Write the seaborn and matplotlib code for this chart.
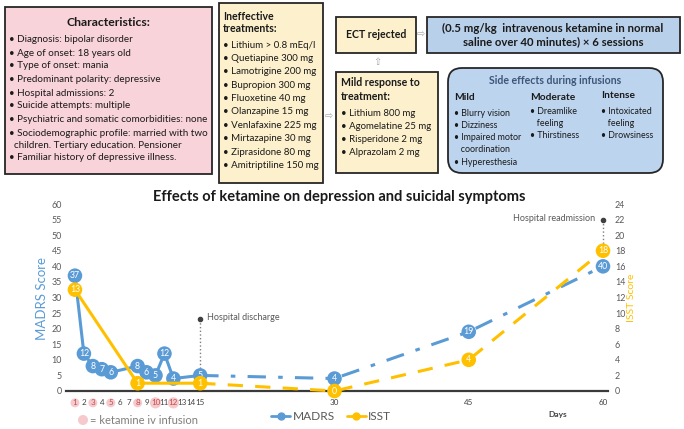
import matplotlib
matplotlib.use("Agg")
import matplotlib.pyplot as plt
from matplotlib.patches import FancyBboxPatch, Circle
from matplotlib.lines import Line2D
from matplotlib.transforms import Affine2D
import seaborn as sns
import pandas as pd

# figure size in pixels (dpi 100)
W, H = 684, 429

# chart data
madrs_days = [1, 2, 3, 4, 5, 8, 9, 10, 11, 12, 15, 30, 45, 60]
madrs_scores = [37, 12, 8, 7, 6, 8, 6, 5, 12, 4, 5, 4, 19, 40]
isst_days = [1, 8, 15, 30, 45, 60]
isst_scores = [13, 1, 1, 0, 4, 18]
infusion_days = [1, 3, 5, 8, 10, 12]
day_ticks = list(range(1, 16)) + [30, 45, 60]
discharge_day = 15
readmission_day = 60

# flowchart texts
characteristics = [
    "Diagnosis: bipolar disorder",
    "Age of onset: 18 years old",
    "Type of onset: mania",
    "Predominant polarity: depressive",
    "Hospital admissions: 2",
    "Suicide attempts: multiple",
    "Psychiatric and somatic comorbidities: none",
    "Sociodemographic profile: married with two",
    "  children. Tertiary education. Pensioner",
    "Familiar history of depressive illness.",
]
ineffective = [
    "Lithium > 0.8 mEq/l", "Quetiapine 300 mg", "Lamotrigine 200 mg",
    "Bupropion 300 mg", "Fluoxetine 40 mg", "Olanzapine 15 mg",
    "Venlafaxine 225 mg", "Mirtazapine 30 mg", "Ziprasidone 80 mg",
    "Amitriptiline 150 mg",
]
mild_response = ["Lithium 800 mg", "Agomelatine 25 mg", "Risperidone 2 mg", "Alprazolam 2 mg"]
side_mild = ["• Blurry vision", "• Dizziness", "• Impaired motor", "   coordination", "• Hyperesthesia"]
side_moderate = ["• Dreamlike", "   feeling", "• Thirstiness"]
side_intense = ["• Intoxicated", "   feeling", "• Drowsiness"]

BLUE = "#5b9bd5"
GOLD = "#ffc000"
GRAY = "#595959"
PINK = "#f9d3da"
CREAM = "#fdf0cc"
LBLUE = "#bcd4ee"

sns.set_theme(style="white")
plt.rcParams["font.family"] = ["Lato", "DejaVu Sans"]

fig = plt.figure(figsize=(W / 100, H / 100), dpi=100)
# pixel coordinates, origin top-left
px = Affine2D().scale(1 / W, -1 / H).translate(0, 1) + fig.transFigure


def fx(x):
    return x / W


def fy(y):
    return 1 - y / H


def box(x0, y0, x1, y1, fc, r=0):
    style = "round,pad=0,rounding_size=%d" % r if r else "square,pad=0"
    fig.add_artist(FancyBboxPatch((x0, y0), x1 - x0, y1 - y0, boxstyle=style,
                                  transform=px, fc=fc, ec="#262626", lw=1.3))


def txt(x, y, s, size=6.6, **kw):
    kw.setdefault("color", "#1a1a1a")
    kw.setdefault("va", "center")
    fig.text(fx(x), fy(y), s, fontsize=size, **kw)


# ---- flowchart boxes ----
box(5, 7, 212, 174, PINK)
txt(108, 22, "Characteristics:", 8.8, weight="bold", ha="center")
ys = [40, 53, 66, 80, 93, 106, 119, 133, 145, 158]
for y, s in zip(ys, characteristics):
    txt(9, y, s if s.startswith(" ") else "• " + s, 7.1)

box(219, 3, 323, 183, CREAM)
txt(223, 16, "Ineffective", 7.6, weight="bold")
txt(223, 29, "treatments:", 7.6, weight="bold")
for i, s in enumerate(ineffective):
    txt(223, 45 + i * 13.4, "• " + s, 7.0)

box(336, 17, 416, 53, CREAM)
txt(376, 35, "ECT rejected", 7.6, weight="bold", ha="center")
box(427, 17, 680, 53, "#b8d0ea")
txt(553, 28, "(0.5 mg/kg  intravenous ketamine in normal", 8.2, weight="bold", ha="center")
txt(553, 42, "saline over 40 minutes) × 6 sessions", 8.2, weight="bold", ha="center")

box(336, 72, 438, 173, CREAM)
txt(341, 83, "Mild response to", 7.6, weight="bold")
txt(341, 97, "treatment:", 7.6, weight="bold")
for i, s in enumerate(mild_response):
    txt(341, 113 + i * 13.2, "• " + s, 6.9)

box(448, 68, 663, 173, LBLUE, r=14)
txt(555, 80, "Side effects during infusions", 7.6, weight="bold", ha="center", color="#3d5577")
txt(454, 97, "Mild", 7.3, weight="bold")
txt(530, 97, "Moderate", 7.3, weight="bold")
txt(601, 96, "Intense", 7.3, weight="bold")
for i, s in enumerate(side_mild):
    txt(454, 113 + i * 12.3, s, 6.4)
for i, s in enumerate(side_moderate):
    txt(530, 112 + i * 12, s, 6.4)
for i, s in enumerate(side_intense):
    txt(601, 112 + i * 12, s, 6.4)

# small hollow arrows between boxes
for x, y, s in [(329, 117, "⇨"), (421, 35, "⇨"), (377, 62, "⇧")]:
    fig.text(fx(x), fy(y), s, fontsize=7, color="#a6a6a6", ha="center", va="center",
             family="DejaVu Sans")

# ---- chart ----
txt(339, 197, "Effects of ketamine on depression and suicidal symptoms", 10.5,
    weight="bold", ha="center")

ax = fig.add_axes([fx(66), fy(391), fx(608) - fx(66), fy(204) - fy(391)])
ax2 = ax.twinx()

madrs = pd.DataFrame({"day": madrs_days, "score": madrs_scores})
isst = pd.DataFrame({"day": isst_days, "score": isst_scores})

sns.lineplot(data=madrs[madrs.day <= 15], x="day", y="score", ax=ax, color=BLUE,
             lw=2.2, clip_on=False)
sns.lineplot(data=madrs[madrs.day >= 15], x="day", y="score", ax=ax, color=BLUE,
             lw=2.2, linestyle=(0, (6, 4, 1.5, 4)), clip_on=False)
sns.scatterplot(data=madrs, x="day", y="score", ax=ax, color=BLUE, s=110,
                edgecolor="none", zorder=5, clip_on=False)
for d, v in zip(madrs_days, madrs_scores):
    ax.text(d, v, str(v), color="white", fontsize=6.3, ha="center", va="center", zorder=6)

sns.lineplot(data=isst[isst.day <= 15], x="day", y="score", ax=ax2, color=GOLD,
             lw=2.2, clip_on=False)
sns.lineplot(data=isst[isst.day >= 15], x="day", y="score", ax=ax2, color=GOLD,
             lw=2.2, linestyle=(0, (5, 4)), clip_on=False)
sns.scatterplot(data=isst, x="day", y="score", ax=ax2, color=GOLD, s=110,
                edgecolor="none", zorder=5, clip_on=False)
for d, v in zip(isst_days, isst_scores):
    ax2.text(d, v, str(v), color="white", fontsize=6.3, ha="center", va="center", zorder=6)

# hospital discharge / readmission markers
ax.plot([discharge_day, discharge_day], [6, 23], ls=":", color="#7f7f7f", lw=1, zorder=1)
ax.plot(discharge_day, 23, marker="o", ms=3, color="#404040", clip_on=False)
ax.text(discharge_day + 0.7, 23.5, "Hospital discharge", fontsize=6.5, color=GRAY, va="center")
ax2.plot([readmission_day, readmission_day], [18.5, 22], ls=":", color="#7f7f7f", lw=1,
         clip_on=False)
ax2.plot(readmission_day, 22, marker="o", ms=3, color="#404040", clip_on=False)
ax2.text(readmission_day - 0.9, 22.1, "Hospital readmission", fontsize=6.5, color=GRAY,
         va="center", ha="right")

ax.set_xlim(0, 60.56)
ax.set_ylim(0, 60)
ax2.set_ylim(0, 24)
ax.set_yticks(range(0, 61, 5))
ax2.set_yticks(range(0, 25, 2))
ax.set_xticks(day_ticks)
ax.set_xticklabels([str(d) for d in day_ticks])
ax.set_xlabel("")
ax.set_ylabel("")
ax2.set_ylabel("")
for a in (ax, ax2):
    for sp in a.spines.values():
        sp.set_visible(False)
    a.grid(False)
ax.spines["bottom"].set_visible(True)
ax.spines["bottom"].set_color("#3a3a3a")
ax.spines["bottom"].set_linewidth(1.6)
ax.tick_params(axis="y", length=0, labelsize=6.4, labelcolor=GRAY, pad=3)
ax2.tick_params(axis="y", length=0, labelsize=6.4, labelcolor=GRAY, pad=5)
ax.tick_params(axis="x", length=0, labelsize=5.8, labelcolor="#404040", pad=6)
for d, lbl in zip(day_ticks, ax.get_xticklabels()):
    if d in infusion_days:
        lbl.set_color("#c0504d")
        lbl.set_bbox(dict(boxstyle="circle,pad=0.12", fc="#f6c9cc", ec="none"))

fig.text(fx(42), fy(298), "MADRS Score", rotation=90, fontsize=9.5, color=BLUE,
         ha="center", va="center")
fig.text(fx(631), fy(298), "ISST Score", rotation=90, fontsize=7.5, color=GOLD,
         ha="center", va="center")
txt(558, 414, "Days", 6, weight="bold", ha="center", color="#404040")

# legends
handles = [Line2D([0], [0], color=BLUE, lw=2, marker="o", ms=5),
           Line2D([0], [0], color=GOLD, lw=2, marker="o", ms=5)]
fig.legend(handles, ["MADRS", "ISST"], loc="center", bbox_to_anchor=(fx(331), fy(417)),
           ncol=2, frameon=False, fontsize=8.6, labelcolor=GRAY, handlelength=1.6,
           handletextpad=0.2, columnspacing=1.0)
fig.add_artist(Circle((83, 420), 5, transform=px, fc="#f6c9cc", ec="none"))
txt(90, 420, "= ketamine iv infusion", 8, color="#7f7f7f")

fig.savefig("out.png", dpi=100)
